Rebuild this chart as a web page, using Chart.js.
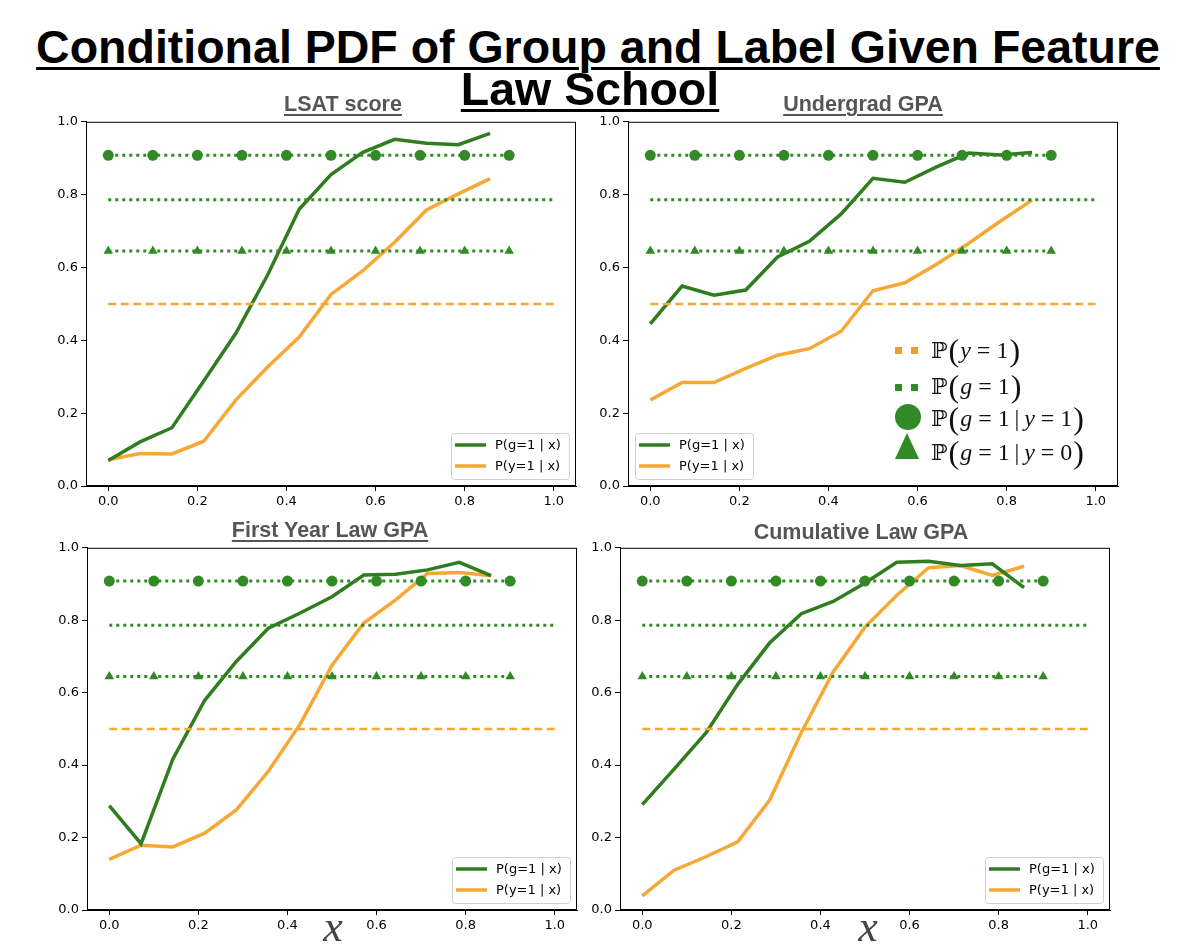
<!DOCTYPE html>
<html>
<head>
<meta charset="utf-8">
<script src="https://cdn.jsdelivr.net/npm/chart.js@4/dist/chart.umd.min.js"></script>
<style>
  html, body { margin: 0; padding: 0; background: #fff; }
  #page { position: relative; width: 1178px; height: 950px; overflow: hidden; }
  canvas { position: absolute; }
  .txt { position: absolute; white-space: nowrap; line-height: 1; z-index: 2; }
  .main { font: bold 46.5px "Liberation Sans", Arial, sans-serif; color: #000; text-decoration: underline; text-decoration-thickness: 3px; text-underline-offset: 4px; transform: translateX(-50%); }
  .sub { font: bold 21.5px "Liberation Sans", Arial, sans-serif; color: #555; transform: translateX(-50%); }
  .sub.u { text-decoration: underline; text-decoration-thickness: 1.5px; text-underline-offset: 3px; }
  .xlab { font: italic 44px "Liberation Serif", "DejaVu Serif", serif; color: #444; transform: translateX(-50%); }
  .row { position: absolute; left: 931px; height: 32px; display: flex; align-items: center; font: 24px "Liberation Serif", "DejaVu Serif", serif; color: #111; z-index: 2; white-space: nowrap; }
  .row .p { font-size: 32px; font-weight: 300; margin: 0 1px; }
  .row .bb { font-family: "DejaVu Serif", serif; font-size: 22px; }
  .row i { font-family: "Liberation Serif", serif; }
  .sym { position: absolute; z-index: 2; }
</style>
</head>
<body>
<div id="page">
  <div class="txt main" style="left:598px; top:20px;">Conditional PDF of Group and Label Given Feature</div>
  <div class="txt main" style="left:590px; top:62px;">Law School</div>

  <div class="txt sub u" style="left:343px; top:92px;">LSAT score</div>
  <div class="txt sub u" style="left:863px; top:92px;">Undergrad GPA</div>
  <div class="txt sub u" style="left:330px; top:518px;">First Year Law GPA</div>
  <div class="txt sub" style="left:861px; top:520px;">Cumulative Law GPA</div>

  <div class="txt xlab" style="left:333px; top:901px;">x</div>
  <div class="txt xlab" style="left:868px; top:901px;">x</div>

  <canvas id="c1"></canvas>
  <canvas id="c2"></canvas>
  <canvas id="c3"></canvas>
  <canvas id="c4"></canvas>

  <!-- math legend in the Undergrad GPA panel -->
  <div class="sym" style="left:895px; top:347px; width:7px; height:7px; background:#f29a33;"></div>
  <div class="sym" style="left:911px; top:347px; width:7px; height:7px; background:#f29a33;"></div>
  <div class="row" style="top:334px;"><span class="bb">ℙ</span><span class="p">(</span><i>y</i>&nbsp;=&nbsp;1<span class="p">)</span></div>

  <div class="sym" style="left:895px; top:384px; width:7px; height:7px; background:#318a25;"></div>
  <div class="sym" style="left:911px; top:384px; width:7px; height:7px; background:#318a25;"></div>
  <div class="row" style="top:370px;"><span class="bb">ℙ</span><span class="p">(</span><i>g</i>&nbsp;=&nbsp;1<span class="p">)</span></div>

  <div class="sym" style="left:895px; top:404px; width:26px; height:26px; border-radius:50%; background:#318a25;"></div>
  <div class="row" style="top:402px;"><span class="bb">ℙ</span><span class="p">(</span><i>g</i>&nbsp;=&nbsp;1&thinsp;|&thinsp;<i>y</i>&nbsp;=&nbsp;1<span class="p">)</span></div>

  <div class="sym" style="left:895px; top:433px; width:0; height:0; border-left:12px solid transparent; border-right:12px solid transparent; border-bottom:26px solid #318a25;"></div>
  <div class="row" style="top:436px;"><span class="bb">ℙ</span><span class="p">(</span><i>g</i>&nbsp;=&nbsp;1&thinsp;|&thinsp;<i>y</i>&nbsp;=&nbsp;0<span class="p">)</span></div>
</div>

<script>
/* ==========================================
   Data
========================================== */

const xGrid = [0, 0.0714, 0.1429, 0.2143, 0.2857, 0.3571, 0.4286, 0.5, 0.5714, 0.6429, 0.7143, 0.7857, 0.8571];
const markerX = [0, 0.1, 0.2, 0.3, 0.4, 0.5, 0.6, 0.7, 0.8, 0.9];
const lineX = [0, 1];
const xTicks = [0, 0.2, 0.4, 0.6, 0.8, 1.0];
const yTicks = [0, 0.2, 0.4, 0.6, 0.8, 1.0];

const pY1 = 0.5;
const pG1 = 0.786;
const pG1givenY1 = 0.908;
const pG1givenY0 = 0.645;

const legendLabels = ["P(g=1 | x)", "P(y=1 | x)"];

const lsatG = [0.070, 0.121, 0.160, 0.288, 0.418, 0.578, 0.760, 0.855, 0.916, 0.952, 0.941, 0.937, 0.968];
const lsatY = [0.072, 0.089, 0.088, 0.123, 0.235, 0.326, 0.409, 0.526, 0.591, 0.669, 0.758, 0.802, 0.844];

const ugpaG = [0.445, 0.549, 0.524, 0.538, 0.629, 0.672, 0.747, 0.845, 0.834, 0.876, 0.914, 0.909, 0.916];
const ugpaY = [0.236, 0.284, 0.284, 0.323, 0.359, 0.377, 0.425, 0.536, 0.558, 0.609, 0.666, 0.727, 0.785];

const fygpaG = [0.288, 0.183, 0.417, 0.579, 0.687, 0.778, 0.820, 0.865, 0.925, 0.927, 0.939, 0.960, 0.923];
const fygpaY = [0.140, 0.179, 0.174, 0.212, 0.277, 0.383, 0.513, 0.676, 0.792, 0.856, 0.929, 0.932, 0.923];

const cumgpaG = [0.291, 0.389, 0.489, 0.623, 0.737, 0.818, 0.852, 0.903, 0.960, 0.963, 0.951, 0.956, 0.890];
const cumgpaY = [0.039, 0.110, 0.147, 0.188, 0.303, 0.490, 0.657, 0.781, 0.869, 0.945, 0.951, 0.924, 0.949];

const GREEN = "#2f7d1f";
const GREEN_MARK = "#318a25";
const ORANGE = "#f6a835";

/* ==========================================
   Helpers
========================================== */

function points(xs, ys) {
    return xs.map((x, i) => ({ x: x, y: ys[i] }));
}

function flat(xs, value) {
    return xs.map(x => ({ x: x, y: value }));
}

// frame round the plot area + the small matplotlib style legend
const frameAndLegend = {
    id: "frameAndLegend",
    afterDatasetsDraw(chart, args, opts) {
        const ctx = chart.ctx;
        const a = chart.chartArea;
        ctx.save();
        ctx.strokeStyle = "#000";
        ctx.lineWidth = 1;
        ctx.strokeRect(a.left + 0.5, a.top + 0.5, a.right - a.left - 1, a.bottom - a.top - 1);

        const w = 118, h = 46;
        const x0 = opts.corner === "bl" ? a.left + 7 : a.right - 7 - w;
        const y0 = a.bottom - 7 - h;
        ctx.fillStyle = "rgba(255,255,255,0.8)";
        ctx.strokeStyle = "#d0d0d0";
        ctx.beginPath();
        ctx.roundRect(x0 + 0.5, y0 + 0.5, w, h, 3);
        ctx.fill();
        ctx.stroke();

        ctx.font = "13px 'DejaVu Sans'";
        ctx.textBaseline = "middle";
        chart.data.datasets.slice(0, 2).forEach((ds, i) => {
            const yy = y0 + 12 + 21 * i;
            ctx.strokeStyle = ds.borderColor;
            ctx.lineWidth = 3.5;
            ctx.beginPath();
            ctx.moveTo(x0 + 4, yy);
            ctx.lineTo(x0 + 35, yy);
            ctx.stroke();
            ctx.fillStyle = "#000";
            ctx.fillText(ds.label, x0 + 44, yy + 1);
        });
        ctx.restore();
    }
};

function axis(ticks, isX) {
    return {
        type: "linear",
        min: isX ? -0.05 : 0,
        max: isX ? 1.05 : 1,
        afterBuildTicks: s => { s.ticks = ticks.map(v => ({ value: v })); },
        afterFit: s => {
            if (isX) s.height = 30; else s.width = 40;
        },
        ticks: {
            callback: v => v.toFixed(1),
            color: "#000",
            font: { family: "DejaVu Sans", size: 13 },
            padding: 3,
            autoSkip: false,
            maxRotation: 0
        },
        grid: {
            drawOnChartArea: false,
            drawTicks: true,
            tickLength: 5,
            color: "#000"
        },
        border: { display: true, color: "#000" }
    };
}

function makeChart(id, frame, green, orange, corner) {
    const canvas = document.getElementById(id);
    const padTop = 10, padRight = 10, yW = 40, xH = 30;
    canvas.width = frame.r - frame.l + yW + padRight;
    canvas.height = frame.b - frame.t + padTop + xH;
    canvas.style.left = (frame.l - yW) + "px";
    canvas.style.top = (frame.t - padTop) + "px";

    new Chart(canvas.getContext("2d"), {
        type: "line",
        data: {
            datasets: [
                {
                    label: legendLabels[0],
                    data: points(xGrid, green),
                    borderColor: GREEN,
                    borderWidth: 3.5,
                    pointRadius: 0,
                    order: 2
                },
                {
                    label: legendLabels[1],
                    data: points(xGrid, orange),
                    borderColor: ORANGE,
                    borderWidth: 3.5,
                    pointRadius: 0,
                    order: 2
                },
                {
                    label: "P(y=1)",
                    data: flat(lineX, pY1),
                    borderColor: ORANGE,
                    borderWidth: 2.5,
                    borderDash: [8, 4.5],
                    pointRadius: 0,
                    order: 1
                },
                {
                    label: "P(g=1)",
                    data: flat(lineX, pG1),
                    borderColor: GREEN_MARK,
                    borderWidth: 3,
                    borderDash: [3, 4],
                    pointRadius: 0,
                    order: 1
                },
                {
                    label: "P(g=1|y=1)",
                    data: flat(markerX, pG1givenY1),
                    borderColor: GREEN_MARK,
                    backgroundColor: GREEN_MARK,
                    borderWidth: 3,
                    borderDash: [3, 4],
                    pointStyle: "circle",
                    pointRadius: 5.5,
                    pointBorderWidth: 0,
                    order: 0
                },
                {
                    label: "P(g=1|y=0)",
                    data: flat(markerX, pG1givenY0),
                    borderColor: GREEN_MARK,
                    backgroundColor: GREEN_MARK,
                    borderWidth: 3,
                    borderDash: [3, 4],
                    pointStyle: "triangle",
                    pointRadius: 5.5,
                    pointBorderWidth: 0,
                    order: 0
                }
            ]
        },
        options: {
            responsive: false,
            animation: false,
            layout: { padding: { top: padTop, right: padRight, left: 0, bottom: 0 } },
            plugins: {
                legend: { display: false },
                tooltip: { enabled: false },
                frameAndLegend: { corner: corner }
            },
            scales: {
                x: axis(xTicks, true),
                y: axis(yTicks, false)
            }
        },
        plugins: [frameAndLegend]
    });
}

makeChart("c1", { l: 86, t: 121, r: 576, b: 486 }, lsatG, lsatY, "br");
makeChart("c2", { l: 628, t: 121, r: 1118, b: 486 }, ugpaG, ugpaY, "bl");
makeChart("c3", { l: 87, t: 547, r: 577, b: 910 }, fygpaG, fygpaY, "br");
makeChart("c4", { l: 620, t: 547, r: 1110, b: 910 }, cumgpaG, cumgpaY, "br");
</script>
</body>
</html>
